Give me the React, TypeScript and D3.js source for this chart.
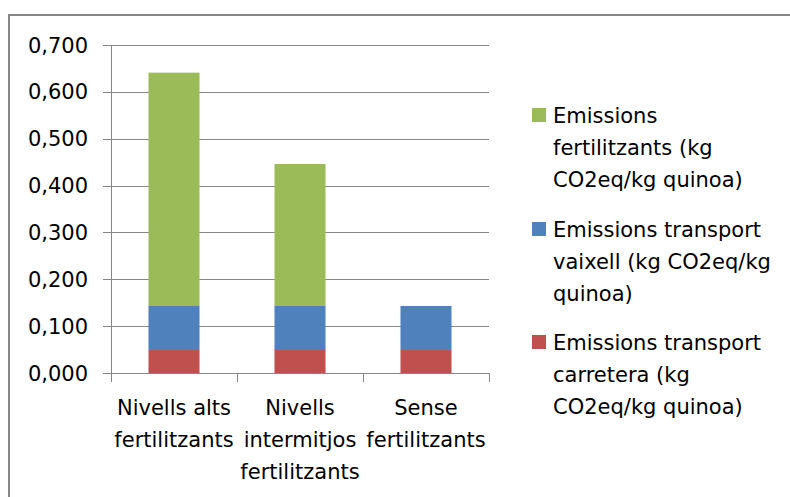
import React from "react";
import * as d3 from "d3";

const categories: string[][] = [
  ["Nivells alts", "fertilitzants"],
  ["Nivells", "intermitjos", "fertilitzants"],
  ["Sense", "fertilitzants"],
];
const carretera = [0.049, 0.049, 0.049];
const vaixell = [0.094, 0.094, 0.094];
const fertilitzants = [0.498, 0.303, 0];
const yTicks = [0, 0.1, 0.2, 0.3, 0.4, 0.5, 0.6, 0.7];
const seriesNames = [
  ["Emissions", "fertilitzants (kg", "CO2eq/kg quinoa)"],
  ["Emissions transport", "vaixell (kg CO2eq/kg", "quinoa)"],
  ["Emissions transport", "carretera (kg", "CO2eq/kg quinoa)"],
];
const colors = ["#9BBB59", "#4F81BD", "#C0504D"];

const W = 790;
const H = 497;
const font = "'DejaVu Sans', sans-serif";

export default function App() {
  const keys = categories.map((c) => c.join(" "));
  const x = d3.scaleBand<string>().domain(keys).range([111, 489]).paddingInner(0.595).paddingOuter(0.2975);
  const xOuter = d3.scaleBand<string>().domain(keys).range([111, 489]);
  const y = d3.scaleLinear().domain([0, 0.7]).range([373, 45]);

  const table = keys.map((k, i) => ({ key: k, carretera: carretera[i], vaixell: vaixell[i], fertilitzants: fertilitzants[i] }));
  const stack = d3.stack<any>().keys(["carretera", "vaixell", "fertilitzants"]);
  const layers = stack(table);
  const layerColor: Record<string, string> = { carretera: colors[2], vaixell: colors[1], fertilitzants: colors[0] };
  const fmt = (v: number) => v.toFixed(3).replace(".", ",");
  const grid = "#868686";

  const legendTop = [123, 237, 350];

  return (
    <svg width={W} height={H} style={{ position: "absolute", left: 0, top: 0, background: "#fff" }} fontFamily={font}>
      <rect x={0} y={0} width={W} height={H} fill="#fff" />
      <path d={`M9,${H} V15 H${W}`} fill="none" stroke={grid} strokeWidth={2} />
      {yTicks.map((t) => (
        <g key={t}>
          <line x1={103} x2={489} y1={Math.round(y(t)) + 0.5} y2={Math.round(y(t)) + 0.5} stroke={grid} strokeWidth={1} />
          <text x={88} y={y(t) + 7.5} textAnchor="end" fontSize={21} fill="#000">{fmt(t)}</text>
        </g>
      ))}
      <line x1={111.5} x2={111.5} y1={45} y2={373} stroke={grid} />
      {layers.map((layer) =>
        layer.map((d, i) => (
          d[1] - d[0] > 0 ? (
            <rect key={layer.key + i} x={x(keys[i])} width={x.bandwidth()} y={y(d[1])} height={y(d[0]) - y(d[1])} fill={layerColor[layer.key]} />
          ) : null
        ))
      )}
      {[...keys.map((k) => xOuter(k) as number), 489].map((px, i) => (
        <line key={i} x1={px + 0.5} x2={px + 0.5} y1={373} y2={382} stroke={grid} />
      ))}
      {categories.map((lines, i) => (
        <text key={i} x={(xOuter(keys[i]) as number) + xOuter.bandwidth() / 2} textAnchor="middle" fontSize={21} fill="#000">
          {lines.map((l, j) => (
            <tspan key={j} x={(xOuter(keys[i]) as number) + xOuter.bandwidth() / 2} y={415 + j * 32}>{l}</tspan>
          ))}
        </text>
      ))}
      {seriesNames.map((lines, i) => (
        <g key={i}>
          <rect x={532} y={legendTop[i] - 15} width={14} height={14} fill={colors[i]} />
          <text fontSize={21} fill="#000">
            {lines.map((l, j) => (
              <tspan key={j} x={553} y={legendTop[i] + j * 32}>{l}</tspan>
            ))}
          </text>
        </g>
      ))}
    </svg>
  );
}
